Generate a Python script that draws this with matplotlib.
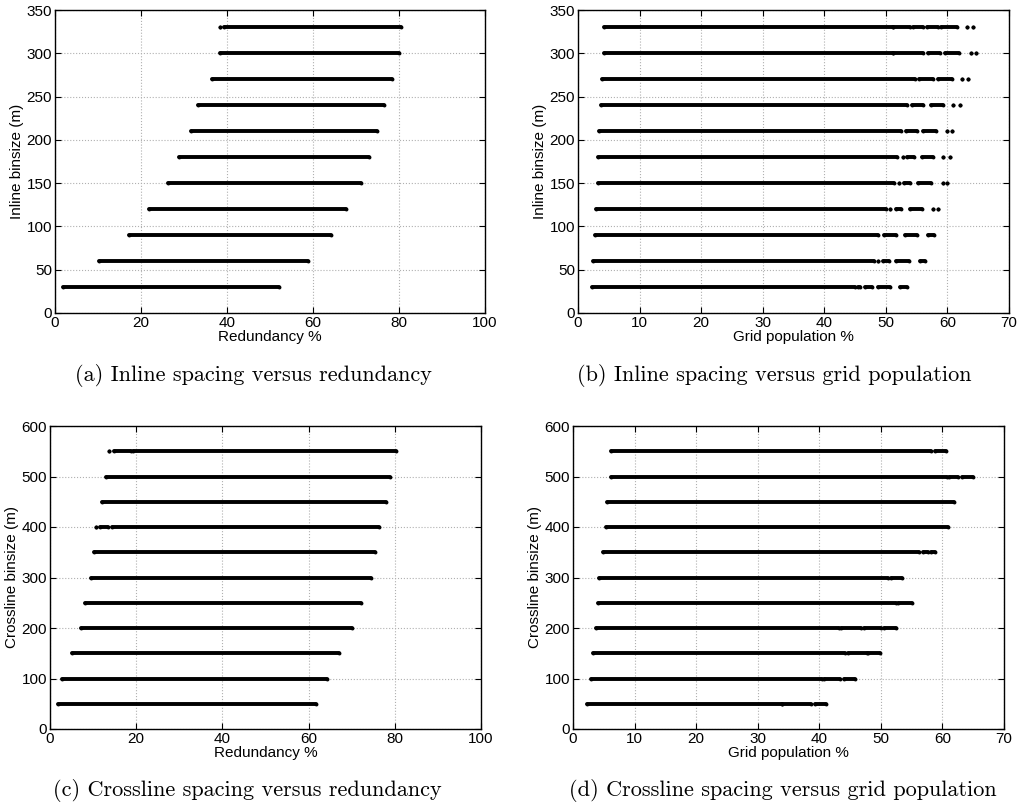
import matplotlib
matplotlib.use("Agg")
import matplotlib.pyplot as plt

plt.rcParams['font.family'] = ['Liberation Sans', 'DejaVu Sans']

# ---------------- data ----------------
# (a) Inline binsize vs redundancy
a_bins = [30, 60, 90, 120, 150, 180, 210, 240, 270, 300, 330]
a_start = [1.8, 10.3, 17.1, 21.8, 26.2, 28.8, 31.6, 33.3, 36.4, 38.3, 39.4]
a_end = [52.0, 58.9, 64.2, 67.6, 71.1, 73.0, 74.8, 76.6, 78.3, 80.0, 80.4]
a_extra = [[], [], [], [], [], [], [], [], [], [], [(38.4, 38.4)]]

# (b) Inline binsize vs grid population
b_bins = [30, 60, 90, 120, 150, 180, 210, 240, 270, 300, 330]
b_start = [2.2, 2.5, 2.8, 3.0, 3.2, 3.3, 3.4, 3.7, 3.9, 4.2, 4.3]
b_end = [45.0, 48.0, 48.8, 50.0, 51.3, 51.8, 52.4, 53.4, 54.7, 51.1, 51.1]
b_extra = [
    [(45.4, 45.8), (46.6, 47.7), (48.8, 50.6), (52.3, 53.4)],
    [(48.8, 48.8), (49.6, 50.5), (51.7, 53.8), (55.6, 56.4)],
    [(49.7, 51.7), (53.1, 55.0), (56.9, 57.8)],
    [(50.6, 50.6), (51.7, 52.5), (53.9, 55.8), (57.6, 57.6), (58.5, 58.5)],
    [(52.2, 52.2), (52.9, 54.0), (55.3, 57.3), (59.2, 59.2), (60.0, 60.0)],
    [(52.8, 52.8), (53.5, 54.5), (55.8, 57.7), (59.3, 59.3), (60.4, 60.4)],
    [(53.2, 55.0), (56.1, 58.1), (59.9, 59.9), (60.8, 60.8)],
    [(54.2, 56.1), (57.3, 59.3), (60.9, 60.9), (62.0, 62.0)],
    [(55.4, 57.6), (58.4, 60.7), (62.3, 62.3), (63.4, 63.4)],
    [(51.2, 56.1), (56.9, 58.8), (59.6, 61.8), (63.8, 63.8), (64.6, 64.6)],
    [(51.2, 53.9), (54.4, 56.1), (56.7, 58.5), (59.0, 61.5), (63.2, 63.2), (64.2, 64.2)],
]

# (c) Crossline binsize vs redundancy
c_bins = [50, 100, 150, 200, 250, 300, 350, 400, 450, 500, 550]
c_start = [1.9, 2.7, 5.0, 7.1, 8.1, 9.4, 10.2, 14.3, 12.0, 13.0, 19.3]
c_end = [61.7, 64.3, 67.1, 70.1, 72.1, 74.4, 75.4, 76.4, 78.0, 78.9, 80.3]
c_extra = [[], [], [], [], [], [], [], [(10.6, 10.6), (11.6, 13.5)], [], [], [(13.8, 13.8), (14.9, 18.9)]]

# (d) Crossline binsize vs grid population
d_bins = [50, 100, 150, 200, 250, 300, 350, 400, 450, 500, 550]
d_start = [2.3, 2.9, 3.3, 3.7, 4.1, 4.2, 4.9, 5.3, 5.6, 6.1, 6.1]
d_end = [33.9, 40.4, 44.1, 43.2, 52.5, 51.2, 56.2, 60.9, 61.8, 60.7, 58.2]
d_extra = [
    [(34.0, 38.7), (39.3, 41.1)],
    [(40.7, 43.3), (44.0, 45.8)],
    [(44.7, 47.7), (47.9, 49.9)],
    [(43.6, 46.7), (47.3, 50.1), (50.5, 52.5)],
    [(52.8, 55.0)],
    [(51.6, 53.4)],
    [(56.8, 57.7), (58.2, 58.8)],
    [],
    [],
    [(61.1, 62.6), (63.1, 64.9)],
    [(58.8, 60.6)],
]

panels = [
    dict(bins=a_bins, start=a_start, end=a_end, extra=a_extra, xlim=(0, 100), xt=[0, 20, 40, 60, 80, 100],
         ylim=(0, 350), yt=[0, 50, 100, 150, 200, 250, 300, 350],
         xlabel='Redundancy %', ylabel='Inline binsize (m)',
         caption='(a) Inline spacing versus redundancy',
         rect=[55/1020, 1-313/808, 430/1020, 303/808], cap_xy=(253/1020, 1-375/808)),
    dict(bins=b_bins, start=b_start, end=b_end, extra=b_extra, xlim=(0, 70), xt=[0, 10, 20, 30, 40, 50, 60, 70],
         ylim=(0, 350), yt=[0, 50, 100, 150, 200, 250, 300, 350],
         xlabel='Grid population %', ylabel='Inline binsize (m)',
         caption='(b) Inline spacing versus grid population',
         rect=[578/1020, 1-313/808, 431/1020, 303/808], cap_xy=(774/1020, 1-375/808)),
    dict(bins=c_bins, start=c_start, end=c_end, extra=c_extra, xlim=(0, 100), xt=[0, 20, 40, 60, 80, 100],
         ylim=(0, 600), yt=[0, 100, 200, 300, 400, 500, 600],
         xlabel='Redundancy %', ylabel='Crossline binsize (m)',
         caption='(c) Crossline spacing versus redundancy',
         rect=[50/1020, 1-729/808, 431/1020, 303/808], cap_xy=(247/1020, 1-790/808)),
    dict(bins=d_bins, start=d_start, end=d_end, extra=d_extra, xlim=(0, 70), xt=[0, 10, 20, 30, 40, 50, 60, 70],
         ylim=(0, 600), yt=[0, 100, 200, 300, 400, 500, 600],
         xlabel='Grid population %', ylabel='Crossline binsize (m)',
         caption='(d) Crossline spacing versus grid population',
         rect=[573/1020, 1-729/808, 431/1020, 303/808], cap_xy=(783/1020, 1-790/808)),
]

fig = plt.figure(figsize=(10.2, 8.08), dpi=100)
LW = 2.8
MS = 2.8
for p in panels:
    ax = fig.add_axes(p['rect'])
    for y, s, e, ex in zip(p['bins'], p['start'], p['end'], p['extra']):
        ax.plot([s, e], [y, y], '-o', color='black', lw=LW, ms=MS, mew=0, solid_capstyle='round')
        for (u, v) in ex:
            ax.plot([u, v], [y, y], '-o', color='black', lw=LW, ms=MS, mew=0, solid_capstyle='round')
    ax.set_xlim(*p['xlim'])
    ax.set_ylim(*p['ylim'])
    ax.set_xticks(p['xt'])
    ax.set_yticks(p['yt'])
    ax.grid(True, linestyle=':', color='#b0b0b0', linewidth=0.8)
    ax.tick_params(direction='in', top=True, right=True, labelsize=11, length=4, pad=2)
    ax.set_xlabel(p['xlabel'], fontsize=11, labelpad=0)
    ax.set_ylabel(p['ylabel'], fontsize=11, labelpad=2)
    for sp in ax.spines.values():
        sp.set_linewidth(1.0)
    fig.text(p['cap_xy'][0], p['cap_xy'][1], p['caption'], ha='center', va='center',
             fontsize=16, family='cmr10')

fig.savefig('out.png', dpi=100)
